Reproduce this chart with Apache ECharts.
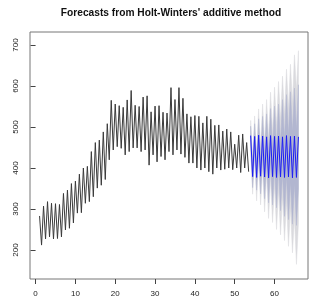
<!DOCTYPE html>
<html><head><meta charset="utf-8">
<script src="https://cdn.jsdelivr.net/npm/echarts@6/dist/echarts.min.js"></script>
<style>html,body{margin:0;padding:0;background:#fff}#c{width:320px;height:308px}</style>
</head><body><div id="c"></div>
<script>
const titleText = "Forecasts from Holt-Winters' additive method";
// time series: 2 observations per unit of time (peak, trough)
const obsStart = 1, fcStart = 54, freq = 2;
const observed = [
283,212, 307,227, 318,232, 314,227, 313,228, 311,232, 338,249, 346,253, 362,266, 368,290,
385,291, 400,314, 404,318, 440,330, 462,351, 468,358, 488,372, 508,420, 565,444, 556,452,
552,448, 548,432, 566,440, 589,449, 553,449, 550,440, 573,444, 576,407, 537,432, 551,415,
552,428, 536,420, 534,440, 596,432, 567,444, 596,434, 570,426, 532,412, 525,412, 528,400,
526,395, 510,400, 526,391, 519,385, 504,400, 505,395, 490,397, 495,400, 488,396, 458,400,
480,389, 483,400, 462,391
];
const forecast = [479,379,477,377,480,380,478,378,476,376,479,379,477,377,478,378,476,377,479,378,477,376,478,377,476];
const lo95 = [442,336,427,320,416,310,400,293,385,277,373,267,357,250,345,237,328,223,317,209,301,193,280,165,266];
const lo80 = [456,352,446,346,440,337,430,325,420,315,413,310,403,303,400,296,385,282,379,274,364,263,361,260,349];
const hi80 = [502,406,508,408,520,423,526,431,532,437,545,448,551,451,556,460,567,472,579,482,586,489,595,494,603];
const hi95 = [516,422,527,434,544,450,556,463,567,475,585,491,597,504,611,519,624,531,641,547,653,559,676,589,686];
const xTicks = [0,10,20,30,40,50,60];
const yTicks = [200,300,400,500,600,700];

const obsPts = observed.map((v,i)=>[obsStart + i/freq, v]);
const fcT = forecast.map((_,i)=>fcStart + i/freq);
const fcPts = forecast.map((v,i)=>[fcT[i], v]);
const c95 = '#dadade', c80 = '#b2b6d0';

function bandSeries(lo, hi, color){
  return {
    type:'custom', silent:true, animation:false, z:2,
    data: fcT.map((t,i)=>[t, lo[i], hi[i]]),
    encode:{x:0, y:[1,2]},
    renderItem: function(params, api){
      if (params.dataIndex !== 0) return null;
      const up = fcT.map((t,i)=>api.coord([t, hi[i]]));
      const dn = fcT.map((t,i)=>api.coord([t, lo[i]])).reverse();
      return {type:'polygon', shape:{points: up.concat(dn)},
        style:{fill:color, stroke:color, lineWidth:0.5}};
    }
  };
}

const font = 'Liberation Sans, Arial, Helvetica, sans-serif';
const chart = echarts.init(document.getElementById('c'), null, {renderer:'canvas'});
chart.setOption({
  animation:false,
  backgroundColor:'#fff',
  title:{text:titleText, left:166, top:3, textAlign:'center',
    textStyle:{fontSize:10.2, fontWeight:'bold', fontFamily:font, color:'#111'}},
  grid:{left:30, right:12, top:32, bottom:29, show:true, borderColor:'#777', borderWidth:1},
  xAxis:{type:'value', min:-1.4, max:68.4, splitLine:{show:false}, axisLine:{show:false},
    axisTick:{show:true, customValues:xTicks, length:5, lineStyle:{color:'#444'}},
    axisLabel:{customValues:xTicks, fontSize:8, margin:11, color:'#222', fontFamily:font}},
  yAxis:{type:'value', min:129.3, max:731.7, splitLine:{show:false}, axisLine:{show:false},
    axisTick:{show:true, customValues:yTicks, length:5, lineStyle:{color:'#444'}},
    axisLabel:{customValues:yTicks, fontSize:8, margin:10, rotate:90, color:'#222', fontFamily:font}},
  series:[
    bandSeries(lo95, hi95, c95),
    bandSeries(lo80, hi80, c80),
    {type:'line', data:fcPts, symbol:'none', lineStyle:{color:'#1c1cf5', width:1}, z:5},
    {type:'line', data:obsPts, symbol:'none', lineStyle:{color:'#3a3a3a', width:1}, z:5}
  ]
});
</script></body></html>
